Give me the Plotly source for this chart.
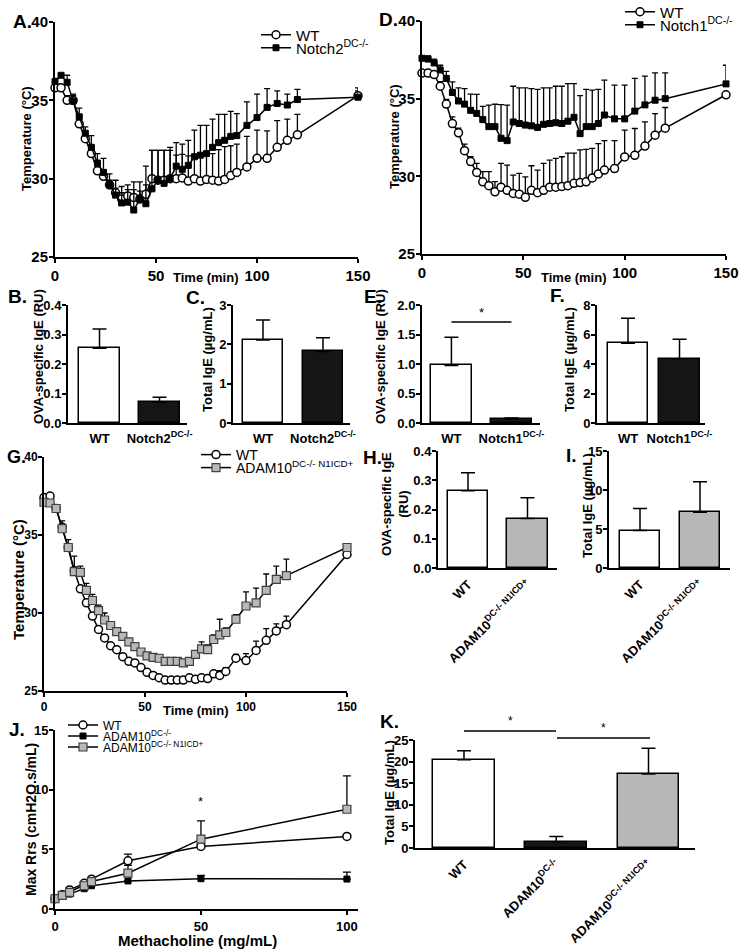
import plotly.graph_objects as go

W, H = 745, 951
FONT = "Arial, 'Liberation Sans', Helvetica, sans-serif"

# ---------------- data ----------------
time_min = [0, 3, 6, 9, 12, 15, 18, 21, 24, 27, 30, 33, 36, 39, 42, 45, 48, 51, 54, 57,
            60, 63, 66, 69, 72, 75, 78, 81, 84, 87, 90, 95, 100, 105, 110, 115, 120, 150]

# Panel A
a_wt = [35.8, 35.8, 35.0, 35.0, 33.5, 32.55, 31.6, 30.5, 30.15, 29.6, 29.1, 28.7, 28.9, 28.8, 28.7, 29.0, 30.0, 29.9, 29.9, 30.0,
        30.0, 30.05, 29.85, 30.0, 29.85, 29.95, 29.9, 29.85, 29.95, 30.2, 30.4, 30.75, 31.3, 31.3, 32.0, 32.45, 32.8, 35.3]
a_wt_err = [0.2, 0.2, 0.3, 0.3, 0.3, 0.3, 0.3, 0.3, 0.3, 0.3, 0.3, 0.4, 0.4, 0.5, 0.5, 0.6, 1.8, 1.9, 1.9, 1.8,
            1.5, 1.5, 1.6, 1.5, 1.6, 1.6, 1.7, 2.0, 2.1, 1.9, 1.8, 1.95, 1.8, 1.75, 1.7, 1.35, 1.3, 0.3]
a_n2 = [36.2, 36.6, 36.15, 34.95, 33.95, 32.9, 32.0, 31.0, 30.4, 29.6, 28.95, 28.45, 28.5, 28.0, 28.7, 28.4, 29.35, 29.9, 29.7, 30.0,
        30.8, 30.6, 30.85, 31.4, 31.5, 31.6, 32.0, 32.3, 32.45, 32.7, 32.75, 33.4, 33.9, 34.55, 34.8, 34.7, 35.05, 35.2]
a_n2_err = [0.2, 0.1, 0.45, 0.45, 0.55, 0.4, 0.75, 0.6, 0.9, 0.7, 0.95, 1.05, 1.1, 1.8, 1.1, 2.4, 2.45, 1.9, 2.1, 2.0,
            1.5, 1.6, 1.6, 1.7, 1.9, 1.8, 1.8, 1.8, 1.65, 1.6, 1.4, 1.5, 1.5, 1.2, 0.8, 0.7, 0.65, 0.6]

# Panel D
d_wt = [36.65, 36.65, 36.55, 35.8, 34.65, 33.4, 32.8, 31.65, 30.95, 30.25, 29.65, 29.4, 29.0, 29.3, 29.1, 28.9, 28.85, 28.65, 29.1, 28.95,
        29.1, 29.3, 29.3, 29.35, 29.4, 29.55, 29.6, 29.65, 29.9, 30.15, 30.4, 30.5, 31.25, 31.35, 31.95, 32.65, 33.1, 35.25]
d_wt_err = [0.1, 0.1, 0.15, 0.3, 0.3, 0.43, 0.3, 0.42, 0.31, 0.58, 0.65, 0.9, 0.66, 1.53, 1.62, 1.18, 1.34, 1.32, 1.58, 1.45,
            1.73, 1.74, 1.85, 1.91, 2.1, 1.95, 2.1, 2.08, 1.9, 1.95, 1.9, 1.8, 1.72, 1.73, 1.55, 1.39, 1.33, 0.0]
d_n1 = [37.6, 37.55, 37.3, 36.85, 36.3, 35.4, 34.85, 34.65, 34.25, 34.05, 33.65, 33.2, 33.2, 32.45, 32.3, 33.5, 33.4, 33.3, 33.25, 33.15,
        33.35, 33.4, 33.45, 33.4, 33.55, 33.8, 32.75, 33.2, 33.2, 33.4, 33.95, 33.7, 33.7, 34.2, 34.6, 34.9, 35.0, 35.95]
d_n1_err = [0.1, 0.2, 0.25, 0.3, 0.46, 0.68, 0.85, 1.0, 1.04, 1.22, 0.85, 1.38, 1.44, 2.17, 2.28, 2.3, 2.3, 2.4, 2.4, 2.45,
            2.35, 2.3, 2.35, 2.4, 2.42, 2.17, 2.45, 2.4, 2.35, 2.2, 2.25, 2.17, 2.17, 2.1, 1.85, 1.76, 1.66, 1.2]

# Panel G
g_wt = [37.4, 37.5, 36.7, 35.5, 34.2, 32.7, 31.55, 30.65, 29.8, 28.95, 28.4, 27.9, 27.65, 27.2, 26.9, 26.8, 26.5, 26.2, 26.0, 25.85,
        25.7, 25.7, 25.7, 25.7, 25.85, 25.75, 25.85, 25.8, 26.1, 26.0, 26.25, 27.1, 26.95, 27.6, 28.25, 28.85, 29.25, 33.75]
g_wt_err = [0.1, 0.1, 0.15, 0.2, 0.2, 0.25, 0.2, 0.2, 0.15, 0.15, 0.15, 0.1, 0.1, 0.1, 0.1, 0.1, 0.1, 0.1, 0.1, 0.1,
            0.1, 0.1, 0.1, 0.1, 0.1, 0.1, 0.1, 0.1, 0.15, 0.3, 0.25, 0.25, 0.45, 0.6, 0.75, 0.45, 0.55, 0.1]
g_adam = [37.1, 37.05, 36.7, 35.4, 34.2, 32.65, 32.6, 31.45, 30.8, 30.15, 29.55, 29.2, 28.8, 28.5, 28.15, 27.85, 27.5, 27.25, 27.15, 27.1,
          26.9, 26.9, 26.9, 26.8, 26.9, 27.35, 27.7, 27.65, 28.3, 28.6, 28.75, 29.6, 30.45, 30.65, 31.45, 32.15, 32.4, 34.2]
g_adam_err = [0.1, 0.1, 0.2, 0.5, 0.5, 1.0, 0.4, 0.45, 0.4, 0.35, 0.45, 0.25, 0.25, 0.2, 0.2, 0.2, 0.2, 0.15, 0.15, 0.2,
              0.15, 0.15, 0.2, 0.2, 0.15, 0.2, 0.45, 0.3, 0.3, 1.0, 0.3, 0.3, 0.9, 0.95, 1.05, 0.85, 1.05, 0.1]

# Bar panels
bc_groups = ["WT", "Notch2<sup>DC-/-</sup>"]
b_vals = [0.253, 0.070]
b_err = [0.066, 0.017]
c_vals = [2.11, 1.82]
c_err = [0.51, 0.35]

ef_groups = ["WT", "Notch1<sup>DC-/-</sup>"]
e_vals = [0.975, 0.068]
e_err = [0.48, 0.017]
f_vals = [5.41, 4.35]
f_err = [1.69, 1.33]

hi_groups = ["WT", "ADAM10<sup>DC-/- N1ICD+</sup>"]
h_vals = [0.264, 0.169]
h_err = [0.062, 0.071]
i_vals = [4.8, 7.16]
i_err = [2.83, 3.90]

k_groups = ["WT", "ADAM10<sup>DC-/-</sup>", "ADAM10<sup>DC-/- N1ICD+</sup>"]
k_vals = [20.4, 1.46, 17.15]
k_err = [2.14, 1.23, 5.93]

# Panel J
dose = [0, 2.5, 5, 10, 12.5, 25, 50, 100]
j_wt = [0.86, 1.2, 1.6, 2.15, 2.5, 4.04, 5.24, 6.08]
j_wt_err = [0, 0, 0, 0, 0, 0.56, 0, 0]
j_ad = [0.86, 1.1, 1.25, 1.7, 1.95, 2.35, 2.54, 2.51]
j_ad_err = [0, 0, 0, 0, 0, 0, 0.28, 0.58]
j_n1 = [0.86, 1.15, 1.4, 1.95, 2.3, 3.0, 5.85, 8.36]
j_n1_err = [0, 0, 0, 0, 0, 0.65, 1.54, 2.79]

# ---------------- styling helpers ----------------
BLACK = "black"
GRAY = "#b8b8b8"


def xd(x0, x1):
    return [x0 / W, x1 / W]


def yd(top, bottom):
    return [1 - bottom / H, 1 - top / H]


def ax(size=14, **kw):
    d = dict(showline=True, linecolor=BLACK, linewidth=2, ticks="outside", tickwidth=2,
             ticklen=4, tickcolor=BLACK, showgrid=False, zeroline=False, fixedrange=True,
             tickfont=dict(family=FONT, size=size, color=BLACK, weight="bold"))
    d.update(kw)
    return d


def err(vals, w=3, th=1.3):
    return dict(type="data", symmetric=False, array=vals, arrayminus=[0] * len(vals),
                color=BLACK, thickness=th, width=w, visible=True)


open_circle = dict(symbol="circle", size=8, color="white", line=dict(color=BLACK, width=1.5))
black_square = dict(symbol="square", size=6, color=BLACK, line=dict(color=BLACK, width=1))
gray_square = dict(symbol="square", size=8, color=GRAY, line=dict(color="#404040", width=1.2))
line_style = dict(color=BLACK, width=1.5)

fig = go.Figure()


def line_trace(x, y, e, marker, name, axn, legend, ew=3):
    fig.add_trace(go.Scatter(
        x=x, y=y, mode="lines+markers", name=name, line=line_style, marker=marker,
        error_y=err(e, ew), xaxis="x" + axn, yaxis="y" + axn, cliponaxis=False,
        legend=legend, showlegend=legend is not None))


def bar_trace(vals, e, colors, axn, width):
    fig.add_trace(go.Bar(
        x=list(range(len(vals))), y=vals, width=width,
        marker=dict(color=colors, line=dict(color=BLACK, width=1.5)),
        error_y=err(e, 7, 1.5), xaxis="x" + axn, yaxis="y" + axn, showlegend=False))


# A (axis 1)
line_trace(time_min, a_wt, a_wt_err, open_circle, "WT", "", "legend")
line_trace(time_min, a_n2, a_n2_err, black_square, "Notch2<sup>DC-/-</sup>", "", "legend2")
# D (axis 4)
line_trace(time_min, d_wt, d_wt_err, open_circle, "WT", "4", "legend3")
line_trace(time_min, d_n1, d_n1_err, black_square, "Notch1<sup>DC-/-</sup>", "4", "legend4")
# G (axis 7)
line_trace(time_min, g_wt, g_wt_err, open_circle, "WT", "7", "legend5")
line_trace(time_min, g_adam, g_adam_err, gray_square, "ADAM10<sup>DC-/- N1ICD+</sup>", "7", "legend6")
# J (axis 10)
line_trace(dose, j_wt, j_wt_err, open_circle, "WT", "10", "legend7", 4)
line_trace(dose, j_ad, j_ad_err, black_square, "ADAM10<sup>DC-/-</sup>", "10", "legend8", 4)
line_trace(dose, j_n1, j_n1_err, gray_square, "ADAM10<sup>DC-/- N1ICD+</sup>", "10", "legend9", 4)

# Bars
bar_trace(b_vals, b_err, ["white", "#151515"], "2", 0.68)
bar_trace(c_vals, c_err, ["white", "#151515"], "3", 0.67)
bar_trace(e_vals, e_err, ["white", "#151515"], "5", 0.68)
bar_trace(f_vals, f_err, ["white", "#151515"], "6", 0.78)
bar_trace(h_vals, h_err, ["white", GRAY], "8", 0.68)
bar_trace(i_vals, i_err, ["white", GRAY], "9", 0.67)
bar_trace(k_vals, k_err, ["white", "#151515", GRAY], "11", 0.67)

layout = dict(width=W, height=H, margin=dict(l=0, r=0, t=0, b=0, autoexpand=False),
              paper_bgcolor="white", plot_bgcolor="white", bargap=0,
              font=dict(family=FONT, color=BLACK))


def temp_y():
    return dict(range=[25, 40], tickvals=[25, 30, 35, 40])


def time_x():
    return dict(range=[0, 150], tickvals=[0, 50, 100, 150])


def setax(n, xdom, ydom, xkw, ykw, size=14):
    s = "" if n == 1 else str(n)
    ykw = dict(ykw)
    ykw.setdefault("ticklabelstandoff", -2)
    layout["xaxis" + s] = ax(size=size, domain=xdom, anchor="y" + s, **xkw)
    layout["yaxis" + s] = ax(size=size, domain=ydom, anchor="x" + s, **ykw)


def cat_x(groups, rng, angle=0):
    return dict(range=rng, tickvals=list(range(len(groups))), ticktext=groups, ticks="",
                tickangle=angle, ticklabelstandoff=2)


setax(1, xd(55, 358), yd(22, 257), time_x(), temp_y(), 15)
setax(2, xd(68, 187), yd(305, 423), cat_x(bc_groups, [-0.525, 1.458]),
      dict(range=[0, 0.4], tickvals=[0, 0.1, 0.2, 0.3, 0.4], tickformat=".1f"), 13)
setax(3, xd(233, 350), yd(305, 423), cat_x(bc_groups, [-0.5, 1.45]),
      dict(range=[0, 3], tickvals=[0, 1, 2, 3]), 13)
setax(4, xd(422, 726), yd(21, 254), time_x(), temp_y(), 15)
setax(5, xd(422, 540), yd(305, 423), cat_x(ef_groups, [-0.49, 1.475]),
      dict(range=[0, 2], tickvals=[0, 0.5, 1, 1.5, 2], tickformat=".1f"), 13)
setax(6, xd(597, 705), yd(305, 423), cat_x(ef_groups, [-0.602, 1.495]),
      dict(range=[0, 8], tickvals=[0, 2, 4, 6, 8]), 13)
setax(7, xd(44, 347), yd(457, 691), time_x(), temp_y(), 12)
setax(8, xd(438, 557), yd(451, 568), cat_x(hi_groups, [-0.504, 1.496], -45),
      dict(range=[0, 0.4], tickvals=[0, 0.1, 0.2, 0.3, 0.4], tickformat=".1f"), 13)
setax(9, xd(609, 730), yd(451, 568), cat_x(hi_groups, [-0.517, 1.5], -45),
      dict(range=[0, 15], tickvals=[0, 5, 10, 15]), 13)
setax(10, xd(55, 358), yd(730, 909), dict(range=[0, 103.8], tickvals=[0, 50, 100]),
      dict(range=[0, 15], tickvals=[0, 5, 10, 15]), 13)
setax(11, xd(415, 695), yd(740, 848), cat_x(k_groups, [-0.531, 2.504], -45),
      dict(range=[0, 25], tickvals=[0, 5, 10, 15, 20, 25]), 13)


def leg(xpx, ypx, size):
    return dict(x=xpx / W, y=1 - ypx / H, xanchor="left", yanchor="middle",
                bgcolor="rgba(0,0,0,0)", borderwidth=0, itemwidth=30, tracegroupgap=0,
                font=dict(family=FONT, size=size, color=BLACK), itemclick=False)


legend_pos = [(256, 35, 15), (256, 48, 15), (620, 12, 15), (620, 25, 15),
              (196, 455, 14), (196, 468, 14), (63, 725, 12), (63, 736, 12), (63, 747, 12)]
for i, (lx, ly, ls) in enumerate(legend_pos):
    key = "legend" if i == 0 else "legend%d" % (i + 1)
    layout[key] = leg(lx, ly, ls)

annotations = []


def ann(text, xpx, ypx, size=13, angle=0, xanchor="center", bold=True, yanchor="middle"):
    annotations.append(dict(text=text, x=xpx / W, y=1 - ypx / H, xref="paper", yref="paper",
                            showarrow=False, textangle=angle, xanchor=xanchor, yanchor=yanchor,
                            font=dict(family=FONT, size=size, color=BLACK,
                                      weight="bold" if bold else "normal")))


# panel letters
for t, x, y, s in [("A.", 11, 22, 19), ("D.", 377, 20, 19), ("B.", 6, 296, 19), ("C.", 184, 297, 19),
                   ("E.", 362, 296, 19), ("F.", 548, 295, 19), ("G.", 5, 457, 18), ("H.", 361, 457, 19),
                   ("I.", 564, 455, 19), ("J.", 7, 729, 19), ("K.", 378, 721, 19)]:
    ann(t, x, y, size=s, xanchor="left")

# axis titles
ann("Temperature (°C)", 26, 138, angle=-90)
ann("Time (min)", 206, 278)
ann("Temperature (°C)", 394, 137, angle=-90)
ann("Time (min)", 574, 278)
ann("OVA-specific IgE (RU)", 38, 357, angle=-90)
ann("Total IgE (µg/mL)", 207, 360, angle=-90)
ann("OVA-specific IgE (RU)", 380, 357, angle=-90)
ann("Total IgE (µg/mL)", 569, 360, angle=-90)
ann("Temperature (°C)", 18, 580, size=15, angle=-90)
ann("Time (min)", 196, 710)
ann("OVA-specific IgE<br>(RU)", 395, 504, angle=-90)
ann("Total IgE (µg/mL)", 587, 506, angle=-90)
ann("Max Rrs (cmH2O.s/mL)", 31, 820, size=14, angle=-90)
ann("Methacholine (mg/mL)", 197, 940, size=15)
ann("Total IgE (µg/mL)", 389, 793, angle=-90)

# significance marks
e_sig_y = 1.71
shapes = [dict(type="line", xref="x5", yref="y5", x0=0, x1=1, y0=e_sig_y, y1=e_sig_y,
               line=dict(color=BLACK, width=1.5))]
annotations.append(dict(text="*", x=0.5, y=e_sig_y, xref="x5", yref="y5", showarrow=False,
                        yanchor="bottom", font=dict(family=FONT, size=13, color=BLACK)))
for (x0, x1, y) in [(464, 556, 731), (557, 650, 738)]:
    shapes.append(dict(type="line", xref="paper", yref="paper", x0=x0 / W, x1=x1 / W,
                       y0=1 - y / H, y1=1 - y / H, line=dict(color=BLACK, width=1.5)))
    ann("*", (x0 + x1) / 2, y - 1, size=12, bold=False, yanchor="bottom")
annotations.append(dict(text="*", x=50, y=8.2, xref="x10", yref="y10", showarrow=False,
                        yanchor="bottom", font=dict(family=FONT, size=13, color=BLACK)))

layout["annotations"] = annotations
layout["shapes"] = shapes
fig.update_layout(**layout)
fig.write_html("out.html", config={"displayModeBar": False},
               post_script="document.body.style.margin='0px';")
